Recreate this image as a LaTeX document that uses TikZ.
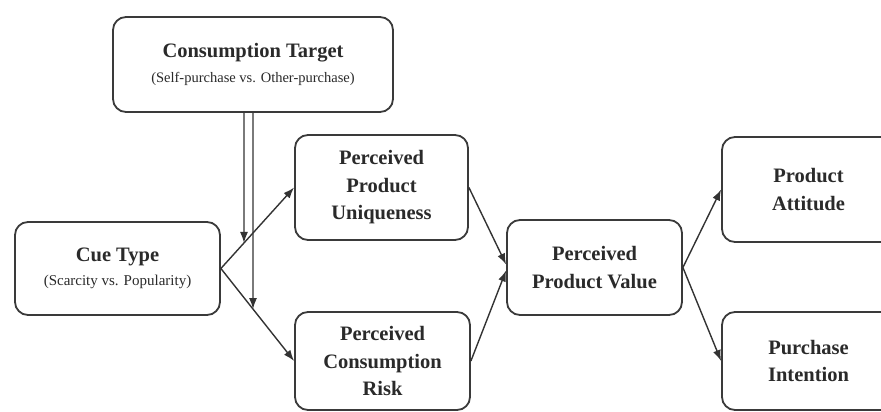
\documentclass[tikz,border=0pt]{standalone}
\usepackage{fontspec}
\setmainfont{Liberation Serif}
\usetikzlibrary{arrows.meta,calc}
\definecolor{boxgray}{HTML}{3A3A3A}
\definecolor{linegray}{HTML}{333333}
\definecolor{textgray}{HTML}{2A2A2A}
\begin{document}
\begin{tikzpicture}[x=1pt,y=1pt,
  box/.style={draw=boxgray, line width=1.8pt, rounded corners=13pt, fill=white,
    align=center, inner sep=0pt, text=textgray,
    font=\bfseries\fontsize{20.5}{27.5}\selectfont},
  sub/.style={},
  conn/.style={draw=linegray, line width=1.4pt, -{Latex[length=11pt,width=8pt]}},
]
\useasboundingbox (0,0) rectangle (881,412);
\clip (0,0) rectangle (881,412);

\node[box, minimum width=280pt, minimum height=95pt] (ct) at (253,347.5)
  {Consumption Target\\[-3pt]{\mdseries\fontsize{14.5}{17}\selectfont (Self-purchase vs. Other-purchase)}};
\node[box, minimum width=205pt, minimum height=93pt] (cue) at (117.5,143.5)
  {Cue Type\\[-3pt]{\mdseries\fontsize{15}{17}\selectfont (Scarcity vs. Popularity)}};
\node[box, minimum width=173pt, minimum height=105pt] (uniq) at (381.5,224.5)
  {Perceived\\Product\\Uniqueness};
\node[box, minimum width=175pt, minimum height=98pt] (risk) at (382.5,51)
  {Perceived\\Consumption\\Risk};
\node[box, minimum width=175pt, minimum height=95pt] (value) at (594.5,144.5)
  {Perceived\\Product Value};
\node[box, minimum width=173pt, minimum height=105pt] (att) at (808.5,222.5)
  {Product\\Attitude};
\node[box, minimum width=173pt, minimum height=98pt] (int) at (808.5,51)
  {Purchase\\Intention};

% arrows from cue type
\draw[conn] (cue.east) -- (uniq.west);
\draw[conn] (cue.east) -- (risk.west);
% to perceived value
\draw[conn] (uniq.east) -- ($(value.west)+(0,3)$);
\draw[conn] (risk.east) -- ($(value.west)+(0,-3)$);
% to outcomes
\draw[conn] (value.east) -- (att.west);
\draw[conn] (value.east) -- (int.west);

% moderator double lines
\coordinate (l1) at ($(ct.south)+(-9,0)$);
\coordinate (l2) at ($(ct.south)+(-9,-300)$);
\coordinate (r1) at (ct.south);
\coordinate (r2) at ($(ct.south)+(0,-300)$);
\draw[conn] (l1) -- (intersection of cue.east--uniq.west and l1--l2);
\draw[conn] (r1) -- (intersection of cue.east--risk.west and r1--r2);
\end{tikzpicture}
\end{document}
